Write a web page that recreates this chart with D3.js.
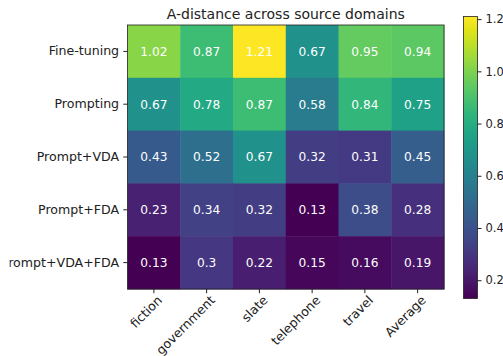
<!DOCTYPE html>
<html>
<head>
<meta charset="utf-8">
<script src="https://cdn.jsdelivr.net/npm/d3@7"></script>
<style>
  body { margin: 0; background: #fff; overflow: hidden; }
  text { font-family: 'DejaVu Sans', sans-serif; }
</style>
</head>
<body>
<div id="chart"></div>
<script>
const width = 503;
const height = 356;

const methods = ['Fine-tuning', 'Prompting', 'Prompt+VDA', 'Prompt+FDA', 'Prompt+VDA+FDA'];
const domains = ['fiction', 'government', 'slate', 'telephone', 'travel', 'Average'];
const values = [
  [1.02, 0.87, 1.21, 0.67, 0.95, 0.94],
  [0.67, 0.78, 0.87, 0.58, 0.84, 0.75],
  [0.43, 0.52, 0.67, 0.32, 0.31, 0.45],
  [0.23, 0.34, 0.32, 0.13, 0.38, 0.28],
  [0.13, 0.3, 0.22, 0.15, 0.16, 0.19]
];
const cbarTicks = [0.2, 0.4, 0.6, 0.8, 1.0, 1.2];

const fs = 12.6;

const svg = d3.select('#chart')
  .append('svg')
  .attr('width', width)
  .attr('height', height);

const plot = { left: 127.5, right: 444, top: 25, bottom: 289 };

const x = d3.scaleBand().domain(domains).range([plot.left, plot.right]);
const y = d3.scaleBand().domain(methods).range([plot.top, plot.bottom]);

const flat = values.flat();
const vmin = d3.min(flat), vmax = d3.max(flat);
const color = d3.scaleSequential(d3.interpolateViridis).domain([vmin, vmax]);

const cells = [];
values.forEach((row, i) => row.forEach((v, j) => cells.push({ m: methods[i], d: domains[j], v })));

// the original figure is cropped on the left edge
// (clip coords are local to the y-axis group)
svg.append('clipPath')
  .attr('id', 'leftcrop')
  .append('rect')
  .attr('x', 9.5 - plot.left)
  .attr('y', 0)
  .attr('width', width)
  .attr('height', height);

svg.append('g')
  .selectAll('rect')
  .data(cells)
  .join('rect')
  .attr('x', (d) => x(d.d))
  .attr('y', (d) => y(d.m))
  .attr('width', x.bandwidth() + 0.5)
  .attr('height', y.bandwidth() + 0.5)
  .attr('fill', (d) => color(d.v));

svg.append('g')
  .selectAll('text')
  .data(cells)
  .join('text')
  .attr('x', (d) => x(d.d) + x.bandwidth() / 2)
  .attr('y', (d) => y(d.m) + y.bandwidth() / 2)
  .attr('dy', '0.36em')
  .attr('text-anchor', 'middle')
  .attr('fill', 'white')
  .attr('font-size', 12.2)
  .text((d) => d.v);

// frame
svg.append('rect')
  .attr('x', plot.left)
  .attr('y', plot.top)
  .attr('width', plot.right - plot.left)
  .attr('height', plot.bottom - plot.top)
  .attr('fill', 'none')
  .attr('stroke', '#222')
  .attr('stroke-width', 0.8);

// x axis
const xAxis = svg.append('g')
  .attr('transform', `translate(0,${plot.bottom})`)
  .call(d3.axisBottom(x).tickSize(4.2).tickPadding(3).tickSizeOuter(0));
xAxis.select('.domain').remove();
xAxis.selectAll('line').attr('stroke', '#222');
xAxis.selectAll('text')
  .attr('font-size', fs)
  .attr('font-family', 'DejaVu Sans, sans-serif')
  .attr('fill', '#222')
  .attr('text-anchor', 'end')
  .attr('dy', null)
  .attr('transform', 'translate(4,7) rotate(-45)');

// y axis
const yAxis = svg.append('g')
  .attr('transform', `translate(${plot.left},0)`)
  .attr('clip-path', 'url(#leftcrop)')
  .call(d3.axisLeft(y).tickSize(4.2).tickPadding(4.2).tickSizeOuter(0));
yAxis.select('.domain').remove();
yAxis.selectAll('line').attr('stroke', '#222');
yAxis.selectAll('text')
  .attr('font-size', fs)
  .attr('font-family', 'DejaVu Sans, sans-serif')
  .attr('fill', '#222');

// title
svg.append('text')
  .attr('x', (plot.left + plot.right) / 2)
  .attr('y', 19)
  .attr('text-anchor', 'middle')
  .attr('font-size', 14)
  .attr('fill', '#222')
  .text('A-distance across source domains');

// colorbar
const cb = { left: 463.5, width: 14, top: 16.5, bottom: 298.5 };
const cy = d3.scaleLinear().domain([vmin, vmax]).range([cb.bottom, cb.top]);

const defs = svg.append('defs');
const grad = defs.append('linearGradient')
  .attr('id', 'cbar')
  .attr('x1', 0).attr('y1', 1).attr('x2', 0).attr('y2', 0);
d3.range(0, 1.0001, 0.05).forEach((t) => {
  grad.append('stop')
    .attr('offset', t)
    .attr('stop-color', d3.interpolateViridis(t));
});

svg.append('rect')
  .attr('x', cb.left)
  .attr('y', cb.top)
  .attr('width', cb.width)
  .attr('height', cb.bottom - cb.top)
  .attr('fill', 'url(#cbar)')
  .attr('stroke', '#222')
  .attr('stroke-width', 0.8);

const cAxis = svg.append('g')
  .attr('transform', `translate(${cb.left + cb.width},0)`)
  .call(d3.axisRight(cy).tickValues(cbarTicks).tickFormat(d3.format('.1f')).tickSize(4).tickPadding(4));
cAxis.select('.domain').remove();
cAxis.selectAll('line').attr('stroke', '#222');
cAxis.selectAll('text')
  .attr('font-size', 11.5)
  .attr('font-family', 'DejaVu Sans, sans-serif')
  .attr('fill', '#222');
</script>
</body>
</html>
